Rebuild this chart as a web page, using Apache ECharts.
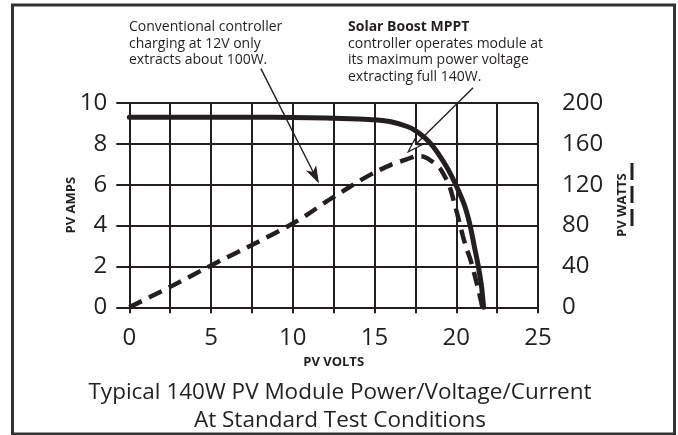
<!DOCTYPE html>
<html><head><meta charset="utf-8">
<script src="https://cdn.jsdelivr.net/npm/echarts@6/dist/echarts.min.js"></script>
<style>html,body{margin:0;padding:0;background:#fff}#c{width:678px;height:435px}</style>
</head><body><div id="c"></div>
<script>
// ---- data ----
const ampVolts = [0, 2.5, 5, 7.5, 10, 12, 14, 15, 16, 17, 17.5, 18, 18.5, 19, 19.5, 20, 20.5, 20.85, 21.1, 21.35, 21.55, 21.67];
const amps     = [9.3, 9.3, 9.3, 9.3, 9.29, 9.27, 9.22, 9.18, 9.08, 8.85, 8.65, 8.35, 7.95, 7.4, 6.75, 5.95, 5.0, 4.0, 3.0, 2.0, 1.0, 0];
const wattVolts = [0, 2.5, 5, 7.5, 10, 11, 12, 13, 14, 15, 16, 17, 17.6, 18.0, 18.5, 19, 19.3, 19.6, 19.9, 20.1, 20.4, 20.6, 20.9, 21.15, 21.4, 21.6];
const watts     = [0, 20, 41, 61, 82, 92, 103, 113, 123, 132, 139.5, 145, 148, 147.5, 143, 136, 128, 118, 101, 89, 70, 59, 45, 30, 14, 0];
const voltTicks = [0, 5, 10, 15, 20, 25];
const voltGridStep = 2.5;
const ampTicks  = [0, 2, 4, 6, 8, 10];
const wattTicks = [0, 40, 80, 120, 160, 200];
const titleLines = ['Typical 140W PV Module Power/Voltage/Current', 'At Standard Test Conditions'];
const note1 = ['Conventional controller', 'charging at 12V only', 'extracts about 100W.'];
const note2Bold = 'Solar Boost MPPT';
const note2 = ['controller operates module at', 'its maximum power voltage', 'extracting full 140W.'];
// annotation arrows in (volts, amps) space
const arrows = [
  { from: [8.05, 11.68], to: [11.55, 6.14], fill: '#231f20' },
  { from: [21.03, 10.75], to: [17.06, 7.61], fill: '#ffffff' }
];

const INK = '#231f20';
const FONT = 'Open Sans';
const chart = echarts.init(document.getElementById('c'), null, { renderer: 'canvas' });

const lineAxis = { show: true, lineStyle: { color: INK, width: 2 } };
const option = {
  backgroundColor: '#fff',
  animation: false,
  grid: { left: 129.3, right: 140, top: 103, bottom: 127.7 },
  xAxis: [{
    type: 'value', position: 'bottom',
    min: voltTicks[0], max: voltTicks[voltTicks.length - 1], interval: voltGridStep,
    axisLine: lineAxis,
    axisTick: { show: true, inside: false, length: 6, lineStyle: { color: INK, width: 2 } },
    splitLine: { show: true, lineStyle: { color: INK, width: 2 } },
    axisLabel: { margin: 19, fontSize: 24, color: INK, fontFamily: FONT,
      formatter: v => voltTicks.includes(v) ? String(v) : '' },
    name: 'PV VOLTS', nameLocation: 'middle', nameGap: 48, nameMoveOverlap: false,
    nameTextStyle: { fontSize: 13, fontWeight: 'bold', color: INK, fontFamily: FONT }
  }, {
    type: 'value', position: 'top',
    min: voltTicks[0], max: voltTicks[voltTicks.length - 1], interval: voltGridStep,
    axisLine: lineAxis,
    axisTick: { show: true, inside: false, length: 6, lineStyle: { color: INK, width: 2 } },
    splitLine: { show: false }, axisLabel: { show: false }
  }],
  yAxis: [{
    type: 'value', position: 'left',
    min: ampTicks[0], max: ampTicks[ampTicks.length - 1], interval: ampTicks[1] - ampTicks[0],
    axisLine: lineAxis,
    axisTick: { show: true, inside: false, length: 13, lineStyle: { color: INK, width: 2 } },
    splitLine: { show: true, lineStyle: { color: INK, width: 2 } },
    axisLabel: { margin: 22, fontSize: 24, color: INK, fontFamily: FONT },
    name: 'PV AMPS', nameLocation: 'middle', nameGap: 52, nameRotate: 90, nameMoveOverlap: false,
    nameTextStyle: { fontSize: 13, fontWeight: 'bold', color: INK, fontFamily: FONT }
  }, {
    type: 'value', position: 'right',
    min: wattTicks[0], max: wattTicks[wattTicks.length - 1], interval: wattTicks[1] - wattTicks[0],
    axisLine: lineAxis,
    axisTick: { show: true, inside: false, length: 14, lineStyle: { color: INK, width: 2 } },
    splitLine: { show: false },
    axisLabel: { margin: 24, fontSize: 24, color: INK, fontFamily: FONT },
    name: 'PV WATTS', nameLocation: 'middle', nameGap: 78, nameRotate: 90, nameMoveOverlap: false,
    nameTextStyle: { fontSize: 13, fontWeight: 'bold', color: INK, fontFamily: FONT }
  }],
  series: [{
    name: 'PV AMPS', type: 'line', xAxisIndex: 0, yAxisIndex: 0,
    data: ampVolts.map((v, i) => [v, amps[i]]),
    showSymbol: false, smooth: 0.25, clip: false,
    lineStyle: { color: INK, width: 5, cap: 'round' }
  }, {
    name: 'PV WATTS', type: 'line', xAxisIndex: 0, yAxisIndex: 1,
    data: wattVolts.map((v, i) => [v, watts[i]]),
    showSymbol: false, smooth: 0.25, clip: false,
    lineStyle: { color: INK, width: 4.5, type: [14, 8], cap: 'butt' }
  }]
};
chart.setOption(option);

// annotations (positioned through the axes)
const graphics = [];
graphics.push({ type: 'rect', silent: true, z: 100,
  shape: { x: 12.5, y: 5, width: 662, height: 429 },
  style: { fill: 'none', stroke: '#333', lineWidth: 3 } });
arrows.forEach(a => {
  const p0 = chart.convertToPixel({ xAxisIndex: 0, yAxisIndex: 0 }, a.from);
  const p1 = chart.convertToPixel({ xAxisIndex: 0, yAxisIndex: 0 }, a.to);
  const dx = p1[0] - p0[0], dy = p1[1] - p0[1];
  const len = Math.hypot(dx, dy), ux = dx / len, uy = dy / len;
  const L = 14, W = 4.5;
  const bx = p1[0] - ux * L, by = p1[1] - uy * L;
  graphics.push({ type: 'line', z: 50, shape: { x1: p0[0], y1: p0[1], x2: bx + ux * 3, y2: by + uy * 3 },
    style: { stroke: INK, lineWidth: 1.4 } });
  graphics.push({ type: 'polygon', z: 51, shape: { points: [
      [p1[0], p1[1]], [bx - uy * W, by + ux * W], [p1[0] - ux * L * 0.75, p1[1] - uy * L * 0.75], [bx + uy * W, by - ux * W]] },
    style: { fill: a.fill, stroke: INK, lineWidth: 1.2 } });
});
graphics.push({ type: 'text', left: 129, top: 19, z: 60,
  style: { text: note1.join('\n'), font: '14px "' + FONT + '"', fill: INK, lineHeight: 16.5 } });
graphics.push({ type: 'text', left: 348, top: 19, z: 60,
  style: { text: '{b|' + note2Bold + '}\n' + note2.join('\n'), font: '14px "' + FONT + '"', fill: INK, lineHeight: 16.5,
    rich: { b: { fontWeight: 'bold', fontSize: 14, fontFamily: FONT, fill: INK, lineHeight: 16.5 } } } });
graphics.push({ type: 'text', z: 60, x: 340, y: 379,
  style: { text: titleLines.join('\n'), font: '22.5px "' + FONT + '"', fill: INK, align: 'center', lineHeight: 27.5 } });
// dashed key next to "PV WATTS"
graphics.push({ type: 'line', z: 60, shape: { x1: 632, y1: 163, x2: 632, y2: 232 },
  style: { stroke: INK, lineWidth: 3, lineDash: [17, 6] } });
chart.setOption({ graphic: graphics });
</script></body></html>
